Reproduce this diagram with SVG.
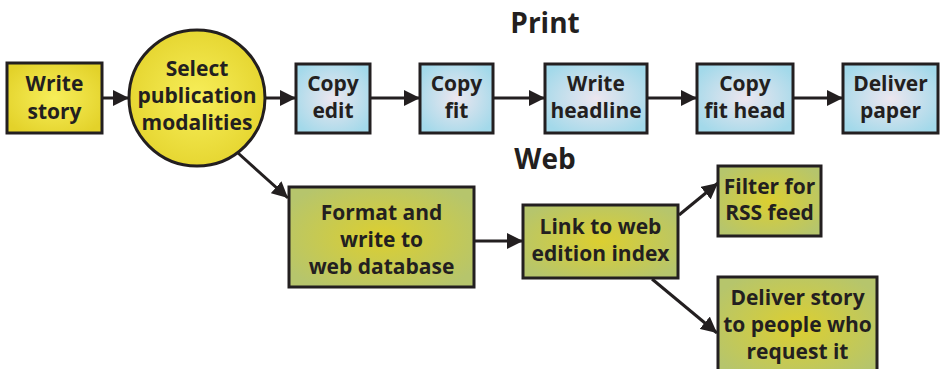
<svg xmlns="http://www.w3.org/2000/svg" width="941" height="369" viewBox="0 0 941 369">
  <defs>
    <radialGradient id="gYellow" cx="50%" cy="50%" r="60%">
      <stop offset="0" stop-color="#f7ee5a"/>
      <stop offset="1" stop-color="#e3d22a"/>
    </radialGradient>
    <radialGradient id="gBlue" cx="50%" cy="50%" r="60%">
      <stop offset="0" stop-color="#ece6ef"/>
      <stop offset="1" stop-color="#a3d9ea"/>
    </radialGradient>
    <radialGradient id="gGreen" cx="50%" cy="50%" r="60%">
      <stop offset="0" stop-color="#dccf30"/>
      <stop offset="1" stop-color="#b6c56c"/>
    </radialGradient>
    <marker id="arrow" viewBox="0 0 16 16" refX="16" refY="8" markerWidth="16" markerHeight="16" markerUnits="userSpaceOnUse" orient="auto">
      <path d="M0,0 L16,8 L0,16 z" fill="#231f20"/>
    </marker>
  </defs>
  <style>
    .box { stroke: #231f20; stroke-width: 3; }
    .yellow { fill: url(#gYellow); }
    .blue { fill: url(#gBlue); }
    .green { fill: url(#gGreen); }
    text { font-family: "Open Sans", "Noto Sans", sans-serif; font-weight: bold; font-size: 21px; fill: #231f20; text-anchor: middle; }
    .title { font-size: 28px; }
    .conn line { stroke: #231f20; stroke-width: 3; marker-end: url(#arrow); }
  </style>

  <text class="title" x="545" y="33">Print</text>
  <text class="title" x="545" y="169">Web</text>

  <g class="conn">
    <line x1="102" y1="98" x2="129" y2="98"/>
    <line x1="265" y1="98" x2="296" y2="98"/>
    <line x1="370" y1="98" x2="420" y2="98"/>
    <line x1="493" y1="98" x2="545" y2="98"/>
    <line x1="647" y1="98" x2="697" y2="98"/>
    <line x1="793" y1="98" x2="843" y2="98"/>
    <line x1="238" y1="153" x2="288" y2="198"/>
    <line x1="474" y1="241" x2="523" y2="241"/>
    <line x1="679" y1="215" x2="718" y2="183"/>
    <line x1="652" y1="279" x2="717" y2="333"/>
  </g>

  <g id="write-story">
    <rect class="box yellow" x="7" y="63" width="95" height="70"/>
    <text x="54.5" y="91">Write</text>
    <text x="54.5" y="119">story</text>
  </g>

  <g id="select">
    <circle class="box yellow" cx="197" cy="98" r="68"/>
    <text x="197" y="76">Select</text>
    <text x="197" y="103">publication</text>
    <text x="197" y="130">modalities</text>
  </g>

  <g id="copy-edit">
    <rect class="box blue" x="296" y="64" width="74" height="69"/>
    <text x="333" y="91">Copy</text>
    <text x="333" y="118">edit</text>
  </g>

  <g id="copy-fit">
    <rect class="box blue" x="420" y="64" width="73" height="69"/>
    <text x="456.5" y="91">Copy</text>
    <text x="456.5" y="118">fit</text>
  </g>

  <g id="write-headline">
    <rect class="box blue" x="545" y="64" width="102" height="69"/>
    <text x="596" y="91">Write</text>
    <text x="596" y="118">headline</text>
  </g>

  <g id="copy-fit-head">
    <rect class="box blue" x="697" y="64" width="96" height="69"/>
    <text x="745" y="91">Copy</text>
    <text x="745" y="118">fit head</text>
  </g>

  <g id="deliver-paper">
    <rect class="box blue" x="843" y="64" width="95" height="69"/>
    <text x="890.5" y="91">Deliver</text>
    <text x="890.5" y="118">paper</text>
  </g>

  <g id="format-web">
    <rect class="box green" x="289" y="187" width="185" height="100"/>
    <text x="381.5" y="220">Format and</text>
    <text x="381.5" y="247">write to</text>
    <text x="381.5" y="274">web database</text>
  </g>

  <g id="link-index">
    <rect class="box green" x="523" y="205" width="155" height="73"/>
    <text x="600.5" y="234">Link to web</text>
    <text x="600.5" y="261">edition index</text>
  </g>

  <g id="filter-rss">
    <rect class="box green" x="718" y="166" width="103" height="70"/>
    <text x="769.5" y="194">Filter for</text>
    <text x="769.5" y="220">RSS feed</text>
  </g>

  <g id="deliver-story">
    <rect class="box green" x="718" y="277" width="159" height="100"/>
    <text x="797.5" y="305">Deliver story</text>
    <text x="797.5" y="332">to people who</text>
    <text x="797.5" y="359">request it</text>
  </g>
</svg>
